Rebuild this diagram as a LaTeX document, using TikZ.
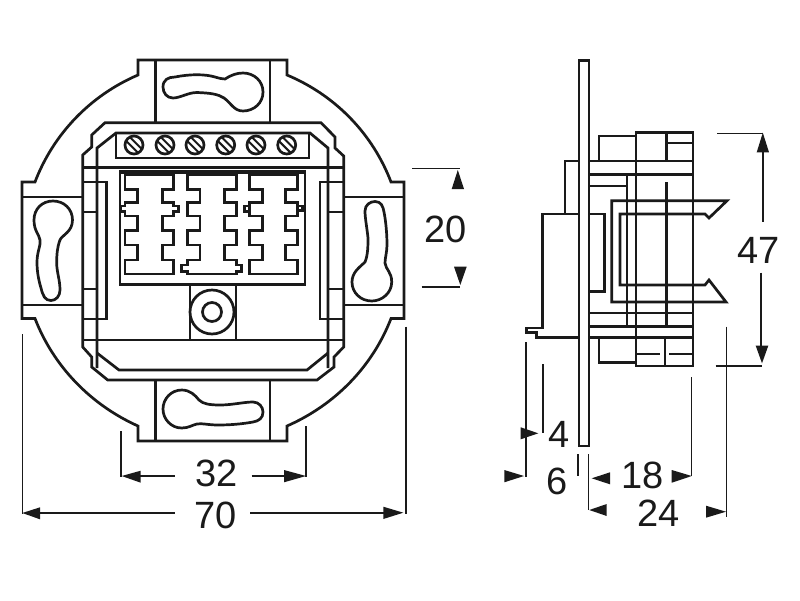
\documentclass[tikz,border=0pt]{standalone}
\usepackage{fontspec}
\setmainfont{Liberation Sans}
\definecolor{ink}{HTML}{1A1A1A}
\tikzset{
  part/.style={draw=ink,line width=2.7pt,line join=miter,line cap=butt},
  dimline/.style={draw=ink,line width=1.6pt},
  tip/.style={fill=ink,draw=none},
  dimtext/.style={inner sep=0pt,text=ink,font=\fontsize{38}{38}\selectfont}
}
\begin{document}
\begin{tikzpicture}[x=1pt,y=-1pt]
\useasboundingbox (0,0) rectangle (800,600);
\fill[white] (0,0) rectangle (800,600);
% --- front view: outer plate
\draw[part] (138,60) -- (138,75) .. controls (90.6,95.3) and (53.4,133.8) .. (35,182) -- (22,182) -- (22,318.5) -- (35,318.5)
  .. controls (53.4,366.2) and (90.6,404.7) .. (138,426) -- (138,441) -- (287,441) -- (287,426)
  .. controls (335.4,404.7) and (372.6,366.2) .. (391,318.5) -- (404,318.5) -- (404,182) -- (391,182)
  .. controls (372.6,133.8) and (335.4,95.3) .. (287,75) -- (287,60) -- cycle;
\draw[part] (155.7,60) -- (155.7,122.7);
\draw[part] (270,60) -- (270,122.7);
\draw[part] (155.7,380) -- (155.7,441);
\draw[part] (270,380) -- (270,441);
\draw[part] (22,197) -- (82.7,197);
\draw[part] (22,305) -- (82.7,305);
\draw[part] (343.7,197) -- (404,197);
\draw[part] (343.7,305) -- (404,305);
% --- outer frame
\draw[part] (105,122.7) -- (91.7,135) -- (91.7,147) -- (82.7,155) -- (82.7,347) -- (91.7,357) -- (91.7,367) -- (107.7,380)
  -- (317,380) -- (334,367) -- (334,357) -- (343.7,347) -- (343.7,156) -- (335,148) -- (335,137) -- (321,122.7) -- cycle;
% --- inner frame
\draw[part] (97,368) -- (97,148) -- (116,133) -- (310,133) -- (328,148) -- (328,368);
\draw[part] (97,353) -- (119,370) -- (307,370) -- (328,353);
\draw[part] (116,133) rectangle (309,158);
\draw[part] (82.7,167.3) -- (343.7,167.3);
\draw[part,line width=3.6pt] (120,172) -- (305,172);
\draw[part] (120,171) rectangle (305,284.3);
\draw[part] (82.7,340) -- (343.7,340);
% --- side bars
\draw[part] (82.7,182) -- (106.7,182) -- (106.7,319) -- (82.7,319);
\draw[part] (82.7,212) -- (97,212);
\draw[part] (82.7,289) -- (97,289);
\draw[part] (343.7,182) -- (320,182) -- (320,319) -- (343.7,319);
\draw[part] (328,212) -- (343.7,212);
\draw[part] (328,289) -- (343.7,289);
% --- screws
\foreach \sx in {134,165,195,225.7,256,286.7}{
  \draw[part] (\sx,145) circle[radius=9];
  \draw[part,line width=2pt] (\sx-7.6,145-3.8) -- (\sx+3.8,145+7.6);
  \draw[part,line width=2pt] (\sx-3.8,145-7.6) -- (\sx+7.6,145+3.8);
}
% --- central socket block
\draw[part] (190,284.3) -- (190,340);
\draw[part] (236,284.3) -- (236,340);
\draw[part] (212,312) circle[radius=22];
\draw[part] (212,312) circle[radius=9.5];
% --- keyhole slots
\draw[part] (163,87) .. controls (163,80) and (168,77) .. (175,77) .. controls (190,74) and (205,74) .. (215,77)
  .. controls (220,78.5) and (223,79) .. (225,79) .. controls (231,75) and (237,73) .. (243,73) .. controls (254,73) and (263,81) .. (263,92)
  .. controls (263,103) and (254,111) .. (243,111) .. controls (234,111) and (231,103) .. (224,98) .. controls (218,94) and (210,93) .. (197,92.5)
  .. controls (188,92.5) and (180,98) .. (173,98) .. controls (167,98) and (163,93) .. (163,87) -- cycle;
\draw[part] (163,409) .. controls (163,399) and (171,390) .. (181.7,390) .. controls (190,390) and (195,395) .. (199,400)
  .. controls (203,404) and (210,405) .. (220,405) .. controls (232,405) and (244,402) .. (253,402) .. controls (259,402) and (263,407) .. (263,412)
  .. controls (263,418) and (259,421) .. (253,422) .. controls (242,424) and (230,425) .. (218,425) .. controls (208,425) and (202,423) .. (197,424)
  .. controls (192,425) and (189,428) .. (181.7,428) .. controls (171,428) and (163,419) .. (163,409) -- cycle;
\draw[part] (53,201) .. controls (64,201) and (72.5,209) .. (72.5,220) .. controls (72.5,232) and (62,235) .. (60,240)
  .. controls (57,248) and (56.7,255) .. (56.7,263) .. controls (56.7,272) and (60,280) .. (60,290) .. controls (60,296) and (56,300.5) .. (51,300.5)
  .. controls (45,300.5) and (43,296) .. (41,288) .. controls (38,278) and (37,270) .. (37,262) .. controls (37,252) and (41,245) .. (40,240)
  .. controls (39,234) and (34,231) .. (34,220) .. controls (34,209) and (42,201) .. (53,201) -- cycle;
\draw[part] (375,201.5) .. controls (381,201.5) and (383,206) .. (384,212) .. controls (386,222) and (387,235) .. (387,245)
  .. controls (387,252) and (385,258) .. (385,263) .. controls (386,270) and (391.7,272) .. (391.7,282) .. controls (391.7,293) and (382,301) .. (371.7,301)
  .. controls (361,301) and (352,293) .. (352,282) .. controls (352,272) and (360,267) .. (365,262) .. controls (368,255) and (368,245) .. (368,238)
  .. controls (367,228) and (365,218) .. (365,211) .. controls (365,205) and (370,201.5) .. (375,201.5) -- cycle;
% --- jack outlines
\begin{scope}[shift={(110,160)},x=0.3333pt,y=-0.3333pt]
\tikzset{sock/.style={draw=ink,line width=2.6pt,line join=miter}}
\draw[sock] (33,155) -- (45,155) -- (45,168) -- (82,168) -- (82,212) -- (45,212) -- (45,255) -- (82,255) -- (82,300) -- (45,300) -- (45,342) -- (190,342)
  -- (190,300) -- (157,300) -- (157,255) -- (190,255) -- (190,212) -- (157,212) -- (157,168) -- (190,168) -- (190,155) -- (205,155) -- (205,138) -- (190,138) -- (190,128) -- (157,128) -- (157,88) -- (190,88) -- (190,45)
  -- (45,45) -- (45,88) -- (82,88) -- (82,128) -- (45,128) -- (45,138) -- (33,138) -- cycle;
\draw[sock] (232,45) -- (380,45) -- (380,88) -- (343,88) -- (343,128) -- (380,128) -- (380,168) -- (343,168) -- (343,212) -- (380,212) -- (380,255) -- (343,255) -- (343,300) -- (380,300) -- (380,315) -- (395,315) -- (395,335) -- (380,335) -- (380,342)
  -- (232,342) -- (232,335) -- (215,335) -- (215,315) -- (232,315) -- (232,300) -- (270,300) -- (270,255) -- (232,255) -- (232,212) -- (270,212) -- (270,168) -- (232,168) -- (232,128) -- (270,128) -- (270,88) -- (232,88) -- cycle;
\draw[sock] (418,45) -- (562,45) -- (562,88) -- (527,88) -- (527,128) -- (562,128) -- (562,168) -- (527,168) -- (527,212) -- (562,212) -- (562,255) -- (527,255) -- (527,300) -- (562,300) -- (562,342)
  -- (418,342) -- (418,300) -- (458,300) -- (458,255) -- (418,255) -- (418,212) -- (458,212) -- (458,168) -- (418,168) -- (418,128) -- (458,128) -- (458,88) -- (418,88) -- cycle;
\draw[sock] (403,138) rectangle (418,155);
\draw[sock] (562,138) rectangle (577,152);
\end{scope}
% --- side view
\draw[part] (579,60.7) rectangle (589,446);
\draw[part] (589,161) -- (599,161) -- (599,136) -- (636,136);
\draw[part] (636,366) -- (636,132.3) -- (693,132.3) -- (693,366) -- cycle;
\draw[part] (666.7,132.3) -- (666.7,161);
\draw[part] (666.7,182) -- (666.7,325);
\draw[part] (665,337.7) -- (665,366);
\draw[part] (666.7,143) -- (693,143);
\draw[part] (589,161) -- (693,161);
\draw[part] (589,174.3) -- (693,174.3);
\draw[part] (589,186) -- (627,186);
\draw[part] (627,174.3) -- (627,326.7);
\draw[part] (611.7,302) -- (611.7,200.7) -- (727,200.7) -- (709,218) -- (705,214) -- (620,214) -- (620,285) -- (705,285) -- (709,280) -- (726,302) -- cycle;
\draw[part] (589,214) -- (604.3,214) -- (604.3,291.7) -- (589,291.7);
\draw[part] (565,214) -- (565,161) -- (579,161);
\draw[part] (579,214) -- (542.3,214) -- (542.3,328) -- (526.5,328) -- (526.5,332.5) -- (536.7,332.5) -- (536.7,337.7) -- (579,337.7);
\draw[part] (589,313) -- (693,313);
\draw[part] (589,326.7) -- (693,326.7);
\draw[part] (589,337.7) -- (693,337.7);
\draw[part] (599,337.7) -- (599,362.7) -- (636,362.7);
\draw[part] (636,354) -- (660,354);
\draw[part] (669,354) -- (693,354);
% --- dimension 20
\draw[dimline] (412,168.3) -- (460,168.3);
\draw[dimline] (421.7,286.7) -- (460,286.7);
\fill[tip] (457.8,170) -- (464,189) -- (451.7,189) -- cycle;
\fill[tip] (460.3,285) -- (466.7,266.7) -- (454,266.7) -- cycle;
\node[dimtext] (d20) at (446,229.5) {20};
% --- dimension 47
\draw[dimline] (717.3,133.3) -- (763.3,133.3);
\draw[dimline] (715.7,365.7) -- (762,365.7);
\draw[dimline] (762.7,152) -- (762.7,221.7);
\draw[dimline] (761,272.7) -- (761,346);
\fill[tip] (762.8,132.7) -- (769,152.3) -- (756.7,152.3) -- cycle;
\fill[tip] (762,363.3) -- (768.3,345.7) -- (755.7,345.7) -- cycle;
\node[dimtext] (d47) at (758.3,250) {47};
% --- side view dimensions
\draw[dimline] (525.7,342.3) -- (525.7,477.3);
\draw[dimline] (542.7,364.3) -- (542.7,433.3);
\fill[tip] (538.3,433.3) -- (520.7,427.3) -- (520.7,439.3) -- cycle;
\node[dimtext] (d4) at (559.3,434) {4};
\fill[tip] (524,476) -- (504.3,470) -- (504.3,482.3) -- cycle;
\node[dimtext] (d6) at (556.7,481.7) {6};
\draw[dimline] (578,454.3) -- (578,475.7);
\draw[dimline] (588.3,454.3) -- (588.3,510);
\fill[tip] (589.3,510) -- (606.7,504) -- (606.7,516) -- cycle;
\fill[tip] (591.7,478.3) -- (610,472.3) -- (610,484.3) -- cycle;
\node[dimtext] (d18) at (642.3,475.5) {18};
\fill[tip] (691.7,476) -- (671.7,470) -- (671.7,482.7) -- cycle;
\draw[dimline] (691.3,377.3) -- (691.3,476);
\node[dimtext] (d24) at (658.3,513.5) {24};
\fill[tip] (726,511.7) -- (706,505.7) -- (706,517.7) -- cycle;
\draw[dimline] (726.5,326.7) -- (726.5,516.7);
% --- dimension 32
\draw[dimline] (121,431) -- (121,476.7);
\draw[dimline] (140,476) -- (175,476);
\fill[tip] (121.7,476) -- (140.7,470.7) -- (140.7,482.7) -- cycle;
\draw[dimline] (251.7,476) -- (285,476);
\fill[tip] (306,476) -- (284,470) -- (284,482.3) -- cycle;
\draw[dimline] (306,426) -- (306,476.7);
\node[dimtext] (d32) at (216.7,473.7) {32};
% --- dimension 70
\draw[dimline] (22.3,334) -- (22.3,513.7);
\draw[dimline] (40,512.7) -- (175,512.7);
\fill[tip] (22.3,513) -- (40,507.3) -- (40,519.3) -- cycle;
\draw[dimline] (250,512.7) -- (384,512.7);
\fill[tip] (403.3,512.7) -- (383.3,506.7) -- (383.3,519) -- cycle;
\draw[dimline] (406,326.7) -- (406,514.3);
\node[dimtext] (d70) at (215.5,515) {70};
\end{tikzpicture}
\end{document}
